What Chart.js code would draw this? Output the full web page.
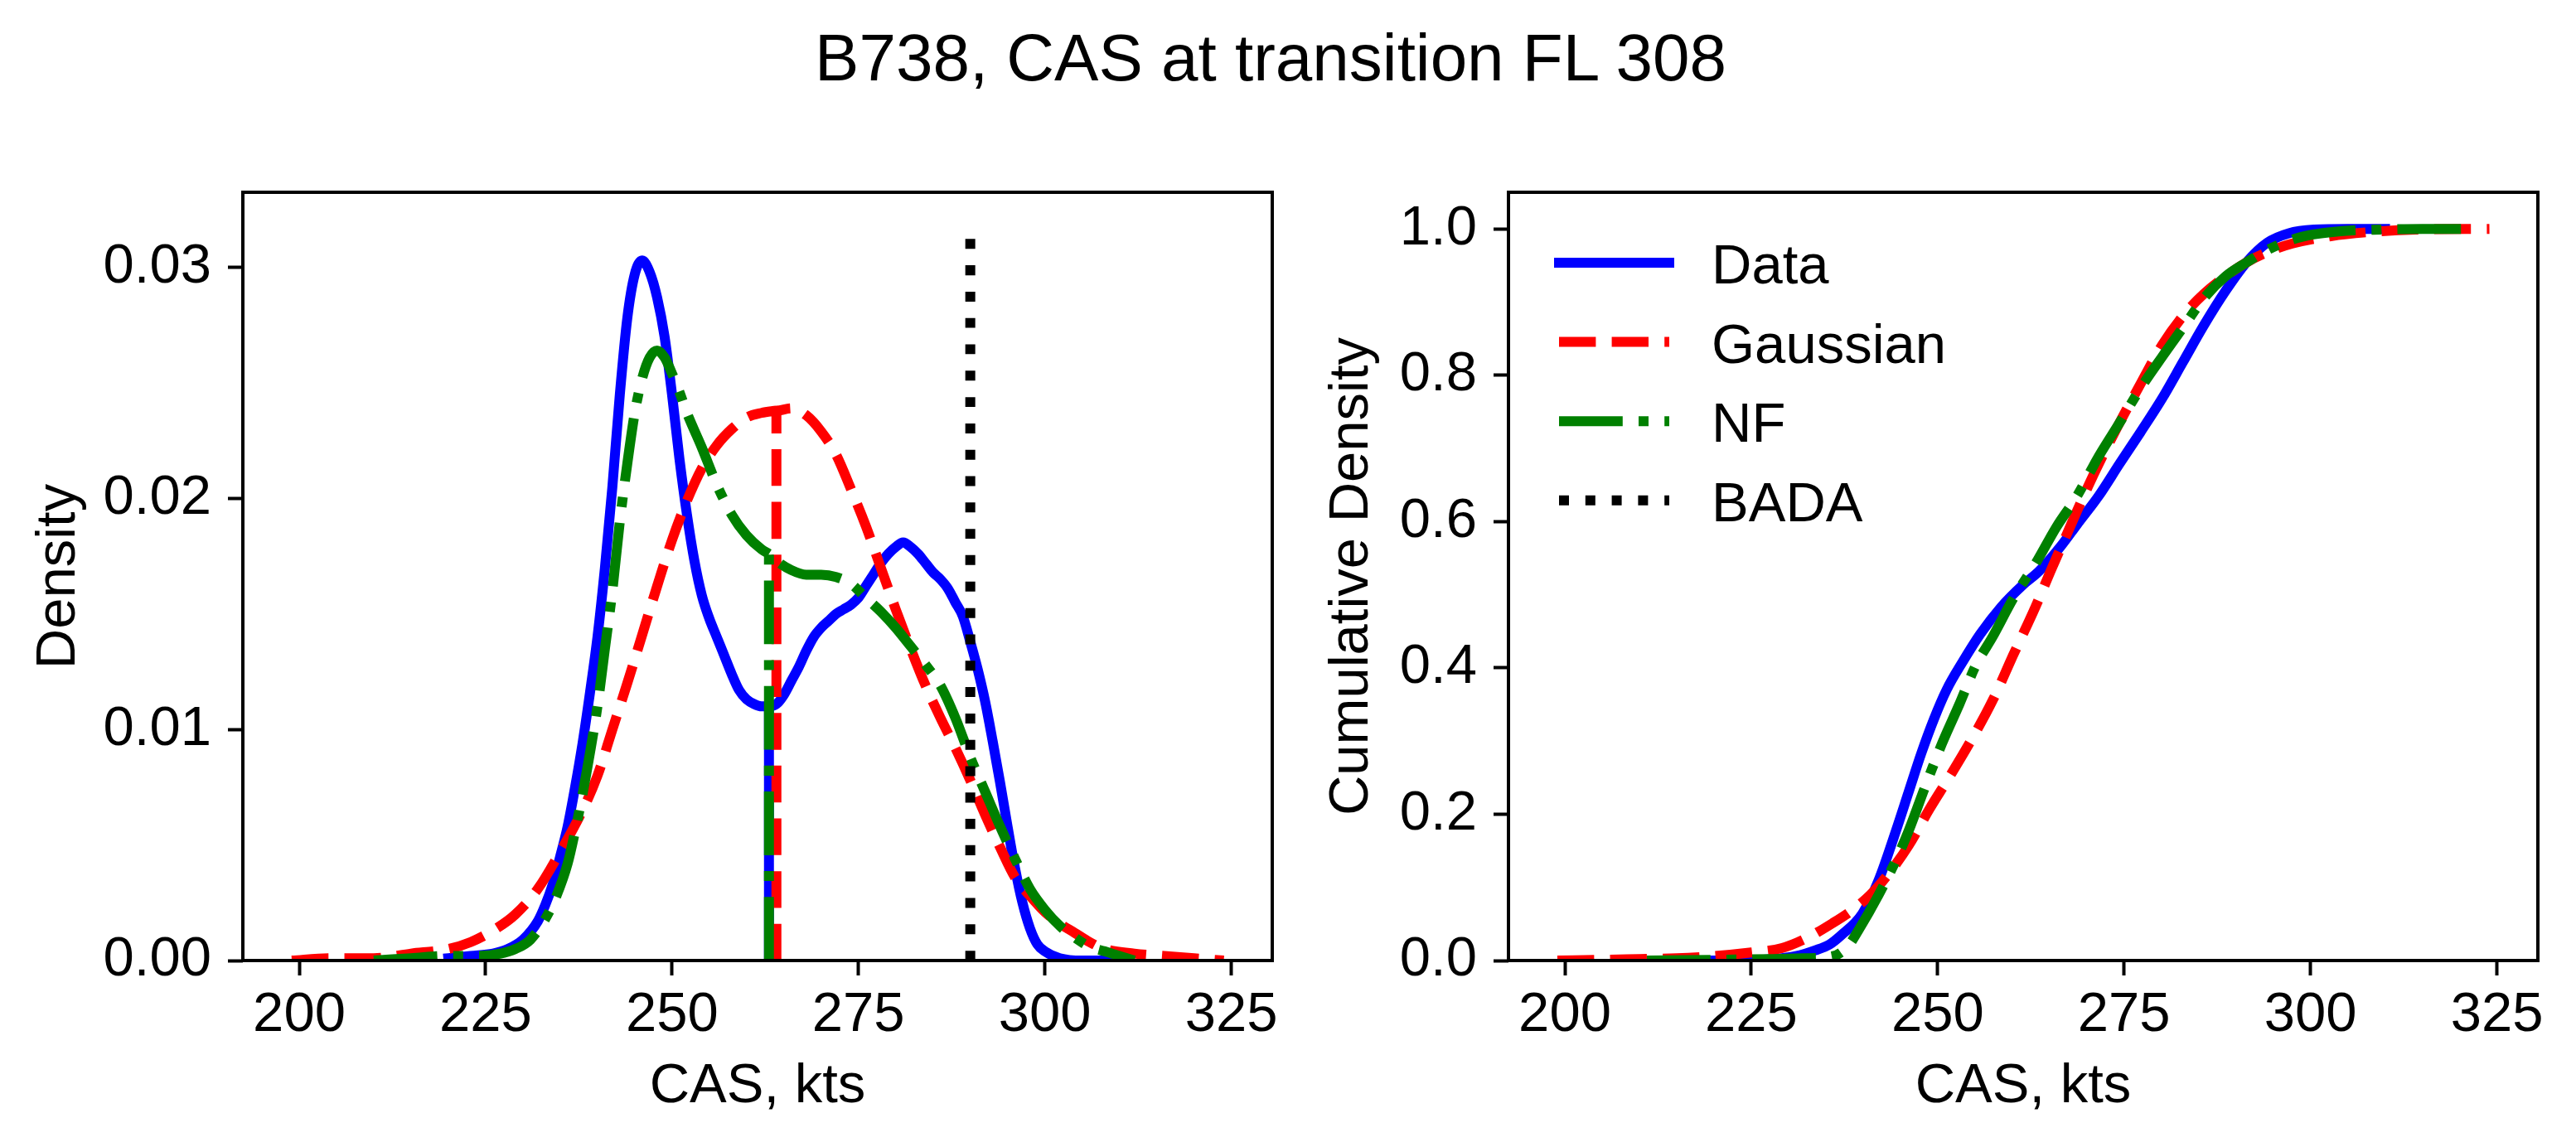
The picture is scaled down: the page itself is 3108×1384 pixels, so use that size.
<!DOCTYPE html>
<html><head><meta charset="utf-8">
<script src="https://cdn.jsdelivr.net/npm/chart.js@4.4.1/dist/chart.umd.min.js"></script>
<style>
html,body{margin:0;padding:0;background:#fff;}
#wrap{position:relative;width:3108px;height:1384px;overflow:hidden;background:#fff;}
#title{position:absolute;left:0;width:3066px;top:30px;text-align:center;font-family:'Liberation Sans',Arial,sans-serif;font-size:80px;line-height:80px;color:#000;white-space:nowrap;}
canvas{position:absolute;top:0;}
</style></head><body>
<div id="wrap">
<div id="title">B738, CAS at transition FL 308</div>
<canvas id="c1" width="1560" height="1384" style="left:0px"></canvas>
<canvas id="c2" width="1548" height="1384" style="left:1560px"></canvas>
</div>
<script>
// ---------- data ----------
const seriesNames = ['Data', 'Gaussian', 'NF', 'BADA'];
const xTicks = [200, 225, 250, 275, 300, 325];
const pdfTicks = [0, 0.01, 0.02, 0.03];
const cdfTicks = [0, 0.2, 0.4, 0.6, 0.8, 1.0];

// density: Data (null marks the break where the curve restarts from zero)
const dataPdfX = [220,223,226,228,230,232,233,234,235,236,237,238,239,240,241,242,243,244,245,246,247,248,249,250,251,252,253,254,255,256,257,258,259,260,261,262,263,263,263,263,264,265,266,267,268,269,270,271,272,273,274,275,276,277,278,279,280,281,282,283,284,285,286,287,288,289,290,291,292,293,294,295,296,297,298,299,300,302,305,310];
const dataPdfY = [0.0001,0.0002,0.0003,0.0005,0.0009,0.0017,0.0024,0.0033,0.0045,0.0058,0.0075,0.0094,0.0116,0.0140,0.0170,0.0205,0.0245,0.0278,0.0297,0.0303,0.0298,0.0287,0.0270,0.0245,0.0217,0.0193,0.0173,0.0158,0.0148,0.0140,0.0132,0.0124,0.0117,0.0113,0.0111,0.0110,0.0110,null,0,0.0110,0.0111,0.0115,0.0121,0.0127,0.0134,0.0140,0.0144,0.0147,0.0150,0.0152,0.0154,0.0157,0.0162,0.0167,0.0172,0.0176,0.0179,0.0181,0.0179,0.0176,0.0172,0.0168,0.0165,0.0161,0.0155,0.0149,0.0138,0.0126,0.0112,0.0095,0.0077,0.0058,0.0040,0.0025,0.0014,0.0007,0.0004,0.0001,0.0000,0.0000];

// density: Gaussian
const gaussPdfX = [199,204,210,215,220,223,226,229,232,235,238,240,242,244,246,248,250,252,254,256,258,260,262,264,264,264,264,266,268,270,272,274,276,278,280,282,284,286,288,290,292,294,296,298,300,302,304,306,308,312,316,320,324];
const gaussPdfY = [0.0000,0.0001,0.0001,0.0003,0.0005,0.0008,0.0013,0.0020,0.0031,0.0047,0.0065,0.0080,0.0100,0.0120,0.0141,0.0162,0.0182,0.0199,0.0213,0.0223,0.0230,0.0235,0.0237,0.0238,null,0,0.0238,0.0239,0.0236,0.0229,0.0219,0.0204,0.0188,0.0170,0.0152,0.0135,0.0119,0.0105,0.0092,0.0078,0.0063,0.0049,0.0036,0.0028,0.0021,0.0016,0.0012,0.0008,0.0005,0.0003,0.0002,0.0001,0.0000];

// density: NF
const nfPdfX = [210,215,220,224,227,229,231,233,234.5,236,237,238,239,240,241,242,243,244,245,246,247,248,249,250,251,252,254,256,258,260,262,263,263,263,263,264,266,268,270,272,274,276,278,280,282,284,286,288,290,292,294,296,298,300,302,304,306,308,310,312];
const nfPdfY = [0.0000,0.0001,0.0002,0.0002,0.0003,0.0005,0.0009,0.0018,0.0028,0.0042,0.0056,0.0072,0.0090,0.0110,0.0135,0.0160,0.0190,0.0215,0.0237,0.0252,0.0261,0.0264,0.0261,0.0254,0.0246,0.0237,0.0222,0.0206,0.0193,0.0184,0.0178,0.0176,null,0,0.0176,0.0173,0.0169,0.0167,0.0167,0.0166,0.0163,0.0157,0.0151,0.0144,0.0136,0.0128,0.0119,0.0105,0.0088,0.0073,0.0058,0.0044,0.0031,0.0022,0.0015,0.0010,0.0006,0.0004,0.0002,0.0000];

// BADA reference speed
const badaX = [290, 290];
const badaY = [0, 0.03167];

// cumulative: Data
const dataCdfX = [220,224,228,231,233.6,235.5,237,239.9,242.1,244.4,246.1,247.8,249.5,251.2,253.4,255.7,258.5,261.4,263.6,266.5,268.7,271.6,274.4,277.2,280.1,282.9,285.7,288.6,291.4,294.2,297.1,300.5,305,310];
const dataCdfY = [0.000,0.0005,0.002,0.006,0.014,0.022,0.034,0.064,0.110,0.177,0.230,0.283,0.330,0.370,0.409,0.446,0.483,0.513,0.532,0.566,0.596,0.635,0.679,0.722,0.768,0.818,0.868,0.915,0.954,0.981,0.994,0.999,1.000,1.000];

// cumulative: Gaussian
const gaussCdfX = [199,205,210,215,220,225,229.1,232.5,235.9,238.7,241,243.3,246.1,248.9,251.7,254.6,257.4,260.2,263.1,265.3,267.6,269.9,272.1,274.4,277.2,280.1,282.9,285.7,288.6,291.4,294.2,297.6,302.7,308.4,314.1,324];
const gaussCdfY = [0.000,0.001,0.002,0.003,0.006,0.011,0.017,0.031,0.051,0.070,0.090,0.117,0.157,0.207,0.253,0.303,0.356,0.419,0.483,0.536,0.589,0.642,0.689,0.735,0.788,0.841,0.881,0.911,0.935,0.954,0.968,0.980,0.990,0.996,0.999,1.000];

// cumulative: NF
const nfCdfX = [211,220,228,232,236,238,239.3,242.1,244.4,246.1,248.3,250.6,252.9,255.1,257.4,260.2,263.1,265.9,268.7,271.6,274.4,277.2,280.1,282.9,285.7,288.6,291.4,294.8,298.8,304.4,309.5,315,321];
const nfCdfY = [0.000,0.001,0.002,0.003,0.006,0.020,0.040,0.090,0.137,0.177,0.237,0.297,0.350,0.403,0.443,0.496,0.542,0.592,0.635,0.689,0.735,0.782,0.825,0.865,0.905,0.935,0.954,0.974,0.989,0.997,0.999,1.000,1.000];

// ---------- styling ----------
const FONT = "'Liberation Sans', Arial, sans-serif";
Chart.defaults.font.family = FONT;
Chart.defaults.font.size = 67;
Chart.defaults.color = '#000';

const styles = [
  {borderColor:'#0000ff', borderDash:[], borderCapStyle:'square', order:3},
  {borderColor:'#ff0000', borderDash:[44.4,19.2], borderCapStyle:'butt', order:2},
  {borderColor:'#008000', borderDash:[76.8,19.2,12,19.2], borderCapStyle:'butt', order:1},
  {borderColor:'#000000', borderDash:[12,19.8], borderCapStyle:'butt', order:0}
];

function makeDs(i, xs, ys) {
  return Object.assign({
    label: seriesNames[i],
    data: xs.map((x, k) => ({x: x, y: ys[k]})),
    borderWidth: 12,
    borderJoinStyle: 'round',
    pointRadius: 0,
    pointHoverRadius: 0,
    fill: false,
    cubicInterpolationMode: 'monotone',
    spanGaps: false
  }, styles[i]);
}

const framePlugin = {
  id: 'frame',
  afterDraw(chart) {
    const {ctx, chartArea: a} = chart;
    ctx.save();
    ctx.setLineDash([]);
    ctx.lineWidth = 4;
    ctx.strokeStyle = '#000';
    ctx.lineJoin = 'miter';
    ctx.strokeRect(a.left, a.top, a.right - a.left, a.bottom - a.top);
    ctx.restore();
  }
};

const mplLegend = {
  id: 'mplLegend',
  afterDraw(chart) {
    const {ctx, chartArea: a} = chart;
    ctx.save();
    const step = 95.6;
    chart.data.datasets.forEach((d, i) => {
      const yLine = a.top + 85 + i * step;
      ctx.beginPath();
      ctx.setLineDash(d.borderDash || []);
      ctx.lineDashOffset = 0;
      ctx.lineWidth = d.borderWidth;
      ctx.strokeStyle = d.borderColor;
      ctx.lineCap = d.borderCapStyle;
      ctx.moveTo(a.left + 61, yLine);
      ctx.lineTo(a.left + 194, yLine);
      ctx.stroke();
      ctx.setLineDash([]);
      ctx.fillStyle = '#000';
      ctx.font = '67px ' + FONT;
      ctx.textAlign = 'left';
      ctx.textBaseline = 'alphabetic';
      ctx.fillText(d.label, a.left + 245, a.top + 110 + i * step);
    });
    ctx.restore();
  }
};

function xScale() {
  return {
    type: 'linear', min: 192.44, max: 330.5,
    afterBuildTicks: s => { s.ticks = xTicks.map(v => ({value: v})); },
    afterFit: s => { s.height = 225; },
    grid: {display: true, drawOnChartArea: false, drawTicks: true, tickLength: 18, tickWidth: 4, tickColor: '#000'},
    border: {display: false},
    ticks: {color: '#000', font: {size: 67}, padding: 8, maxRotation: 0, autoSkip: false, callback: v => String(v)},
    title: {display: true, text: 'CAS, kts', color: '#000', font: {size: 67}, padding: {top: 0, bottom: 32}}
  };
}
function yScale(max, ticks, dec, width, label) {
  return {
    type: 'linear', min: 0, max: max,
    afterBuildTicks: s => { s.ticks = ticks.map(v => ({value: v})); },
    afterFit: s => { s.width = width; },
    grid: {display: true, drawOnChartArea: false, drawTicks: true, tickLength: 18, tickWidth: 4, tickColor: '#000'},
    border: {display: false},
    ticks: {color: '#000', font: {size: 67}, padding: 20, autoSkip: false, callback: v => Number(v).toFixed(dec)},
    title: {display: true, text: label, color: '#000', font: {size: 67}, padding: {top: 31, bottom: 0}}
  };
}

const common = {
  responsive: false,
  animation: false,
  events: [],
  plugins: {legend: {display: false}, tooltip: {enabled: false}, title: {display: false}}
};

new Chart(document.getElementById('c1'), {
  type: 'line',
  data: {datasets: [
    makeDs(0, dataPdfX, dataPdfY),
    makeDs(1, gaussPdfX, gaussPdfY),
    makeDs(2, nfPdfX, nfPdfY),
    makeDs(3, badaX, badaY)
  ]},
  options: Object.assign({}, common, {
    layout: {padding: {left: 0, top: 232, right: 25, bottom: 0}},
    scales: {x: xScale(), y: yScale(0.03325, pdfTicks, 2, 293, 'Density')}
  }),
  plugins: [framePlugin]
});

new Chart(document.getElementById('c2'), {
  type: 'line',
  data: {datasets: [
    makeDs(0, dataCdfX, dataCdfY),
    makeDs(1, gaussCdfX, gaussCdfY),
    makeDs(2, nfCdfX, nfCdfY),
    makeDs(3, [], [])
  ]},
  options: Object.assign({}, common, {
    layout: {padding: {left: 0, top: 232, right: 46, bottom: 0}},
    scales: {x: xScale(), y: yScale(1.05, cdfTicks, 1, 260, 'Cumulative Density')}
  }),
  plugins: [framePlugin, mplLegend]
});
</script>
</body></html>
